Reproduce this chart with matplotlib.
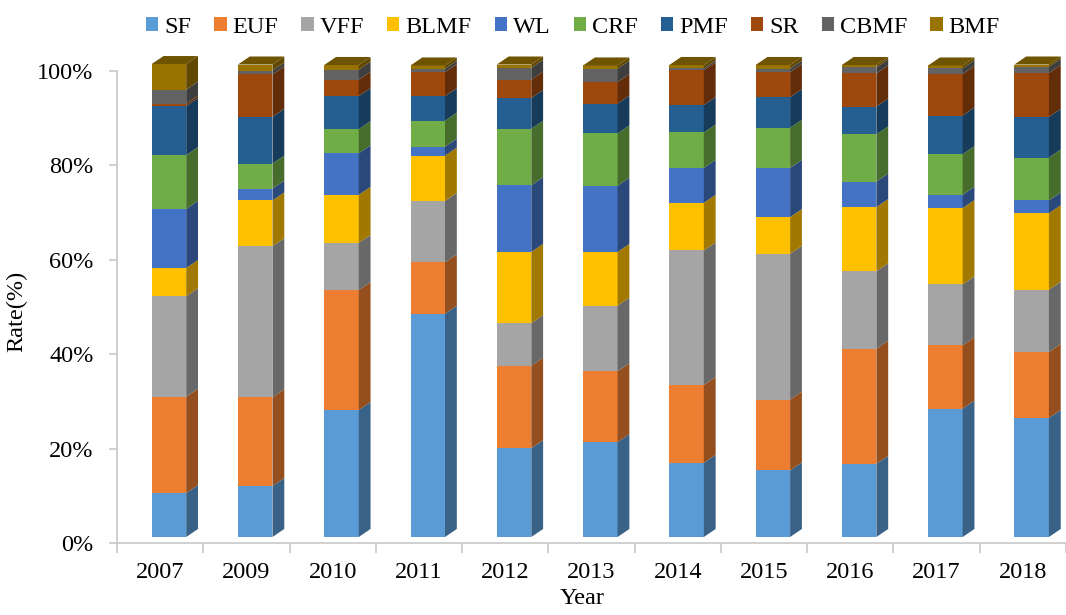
import matplotlib
matplotlib.use("Agg")
import matplotlib.pyplot as plt
from matplotlib.patches import Polygon, Patch
from matplotlib.transforms import ScaledTranslation
import numpy as np

plt.rcParams['font.family'] = ['Liberation Serif', 'DejaVu Serif']

years = ['2007', '2009', '2010', '2011', '2012', '2013', '2014', '2015', '2016', '2017', '2018']

SF   = [9.3, 10.8, 26.9, 47.3, 18.8, 20.1, 15.7, 14.1, 15.5, 27.2, 25.2]
EUF  = [20.4, 18.8, 25.4, 10.9, 17.5, 15.0, 16.5, 15.0, 24.4, 13.4, 14.0]
VFF  = [21.3, 32.0, 10.0, 13.0, 9.0, 13.9, 28.5, 30.9, 16.4, 12.9, 13.2]
BLMF = [6.0, 9.7, 10.2, 9.6, 15.1, 11.4, 10.1, 7.8, 13.6, 16.2, 16.2]
WL   = [12.5, 2.5, 8.8, 1.9, 14.1, 14.0, 7.4, 10.4, 5.4, 2.8, 2.7]
CRF  = [11.4, 5.3, 5.1, 5.5, 12.0, 11.1, 7.5, 8.5, 10.0, 8.6, 9.1]
PMF  = [10.4, 9.9, 7.0, 5.2, 6.5, 6.3, 5.8, 6.5, 5.9, 8.2, 8.6]
SR   = [0.5, 9.0, 3.5, 5.1, 3.9, 4.6, 7.4, 5.3, 7.0, 8.8, 9.3]
CBMF = [3.0, 0.8, 2.1, 0.7, 2.5, 2.8, 0.4, 0.7, 1.3, 1.2, 1.3]
BMF  = [5.4, 1.3, 1.0, 0.7, 0.7, 0.7, 0.7, 0.8, 0.5, 0.6, 0.5]

names = ['SF', 'EUF', 'VFF', 'BLMF', 'WL', 'CRF', 'PMF', 'SR', 'CBMF', 'BMF']
series = [SF, EUF, VFF, BLMF, WL, CRF, PMF, SR, CBMF, BMF]
colors = ['#5B9BD5', '#ED7D31', '#A5A5A5', '#FFC000', '#4472C4',
          '#70AD47', '#255E91', '#9E480E', '#636363', '#997300']

def shade(c, f):
    r, g, b = matplotlib.colors.to_rgb(c)
    return (r * f, g * f, b * f)

fig = plt.figure(figsize=(10.66, 6.15), dpi=100)
ax = fig.add_axes([117 / 1066, 72 / 615, 949 / 1066, 472 / 615])

x = np.arange(len(years))
w = 0.4
dx = 0.137   # depth of the fake 3d, in category units
dy = 1.7     # depth, in percent units
# bars sit a bit behind the floor edge, like excel's 3d columns
off = ax.transData + ScaledTranslation(0.088, 0.06, fig.dpi_scale_trans)

bottom = np.zeros(len(years))
for k, (vals, c) in enumerate(zip(series, colors)):
    vals = np.array(vals)
    ax.bar(x, vals, w, bottom=bottom, color=c, transform=off, clip_on=False,
           linewidth=0)
    for i in range(len(x)):
        xr = x[i] + w / 2
        b = bottom[i]
        t = b + vals[i]
        side = Polygon([(xr, b), (xr + dx, b + dy), (xr + dx, t + dy), (xr, t)],
                       closed=True, facecolor=shade(c, 0.63), edgecolor='none',
                       transform=off, clip_on=False)
        ax.add_patch(side)
        if k == len(series) - 1:
            xl = x[i] - w / 2
            top = Polygon([(xl, t), (xl + dx, t + dy), (xr + dx, t + dy), (xr, t)],
                          closed=True, facecolor=shade(c, 0.72), edgecolor='none',
                          transform=off, clip_on=False)
            ax.add_patch(top)
    bottom = bottom + vals

ax.set_xlim(-0.5, -0.5 + 949 / 87.5)
ax.set_ylim(0, 100)

for s in ['top', 'right']:
    ax.spines[s].set_visible(False)
for s in ['left', 'bottom']:
    ax.spines[s].set_color('#C8C8C8')
    ax.spines[s].set_linewidth(1.2)

ax.set_yticks([0, 20, 40, 60, 80, 100])
ax.set_yticklabels(['0%', '20%', '40%', '60%', '80%', '100%'])
ax.tick_params(axis='y', length=6, color='#C8C8C8', width=1.2, pad=11,
               labelsize=17.5)

ax.set_xticks(x)
ax.set_xticklabels(years)
ax.set_xticks(np.arange(-0.5, len(years), 1.0), minor=True)
ax.tick_params(axis='x', which='major', length=0, pad=14, labelsize=17.5)
ax.tick_params(axis='x', which='minor', length=7, color='#C8C8C8', width=1.2)

ax.set_ylabel('Rate(%)', fontsize=17.5)
ax.yaxis.set_label_coords(-0.095, 0.49)
ax.set_xlabel('Year', fontsize=17.5)
ax.xaxis.set_label_coords(0.49, -0.096)

handles = [Patch(facecolor=c, edgecolor='none') for c in colors]
fig.legend(handles, names, loc='center', bbox_to_anchor=(0.5375, 0.956),
           ncol=10, frameon=False, fontsize=17.5, handlelength=0.5,
           handleheight=0.5, handletextpad=0.25, columnspacing=0.95,
           borderaxespad=0)

fig.savefig('out.png', dpi=100)
